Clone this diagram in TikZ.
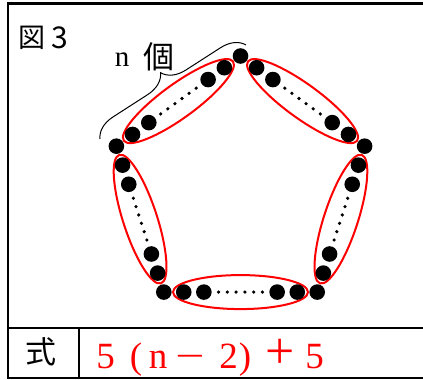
\documentclass[tikz,border=0pt]{standalone}
\usepackage{fontspec}
\setmainfont{Liberation Serif}
\newfontfamily\cjk{Noto Sans CJK JP}
\usetikzlibrary{calc,decorations.pathreplacing}
\begin{document}
\begin{tikzpicture}[x=1pt,y=-1pt,
  frameline/.style={line width=2.5pt,line join=miter},
  divline/.style={line width=2pt},
  bigdot/.style={fill=black},
  smalldot/.style={fill=black},
  ring/.style={draw=red,line width=2pt},
  bracestyle/.style={line width=1pt,decorate,decoration={brace,amplitude=23pt}},
  cjktext/.style={inner sep=0pt,font=\cjk\fontsize{#1}{#1}\selectfont},
  sertext/.style={inner sep=0pt,anchor=base,font=\fontsize{#1}{#1}\selectfont},
  formula/.style={inner sep=0pt,anchor=base,text=red,font=\fontsize{37}{37}\selectfont}]
\useasboundingbox (0,0) rectangle (423,380);
% frame
\draw[frameline] (423,3.5) -- (8,3.5) -- (8,378) -- (423,378);
\draw[divline] (8,327.5) -- (423,327.5);
\draw[divline] (79,327.5) -- (79,378);
% pentagon vertices
\coordinate (C) at (240.5,186.5);
\coordinate (V0) at ($(C)+(-90:130.5)$);
\coordinate (V1) at ($(C)+(-18:130.5)$);
\coordinate (V2) at ($(C)+(54:130.5)$);
\coordinate (V3) at ($(C)+(126:130.5)$);
\coordinate (V4) at ($(C)+(198:130.5)$);
% edges
\foreach \i/\j/\a in {0/1/-36,1/2/72,2/3/0,3/4/-72,4/0/36}{
  \draw[ring] ($(V\i)!0.5!(V\j)$) ellipse [x radius=67.5, y radius=17, rotate=\a];
  \foreach \t in {0.130,0.261,0.739,0.870}{
    \fill[bigdot] ($(V\i)!\t!(V\j)$) circle [radius=7.8];
  }
  \foreach \k in {0,...,5}{
    \fill[smalldot] ($(V\i)!{0.357+0.0572*\k}!(V\j)$) circle [radius=1.8];
  }
}
\foreach \i in {0,...,4}{
  \fill[bigdot] (V\i) circle [radius=7.8];
}
% brace
\coordinate (B1) at (100,139);
\coordinate (B2) at (246,45);
\draw[bracestyle] (B1) -- (B2);
% labels
\node[cjktext=27] (zu) at (32,37.5) {図};
\node[cjktext=30] (three) at (60,37.5) {3};
\node[sertext=29] (nlab) at (122,66.7) {n};
\node[cjktext=31] (ko) at (158.5,57) {個};
\node[cjktext=31] (shiki) at (41,351.5) {式};
% formula
\node[formula] (f1) at (105.5,368) {5};
\node[formula] (f2) at (136,368) {(};
\node[formula] (f3) at (158,368) {n};
\node[formula] (f4) at (190,368) {\scalebox{1.4}[1]{−}};
\node[formula] (f5) at (228.5,368) {2};
\node[formula] (f6) at (245,368) {)};
\node[formula] (f7) at (280,368) {\scalebox{1.4}{+}};
\node[formula] (f8) at (314.5,368) {5};
\end{tikzpicture}
\end{document}
